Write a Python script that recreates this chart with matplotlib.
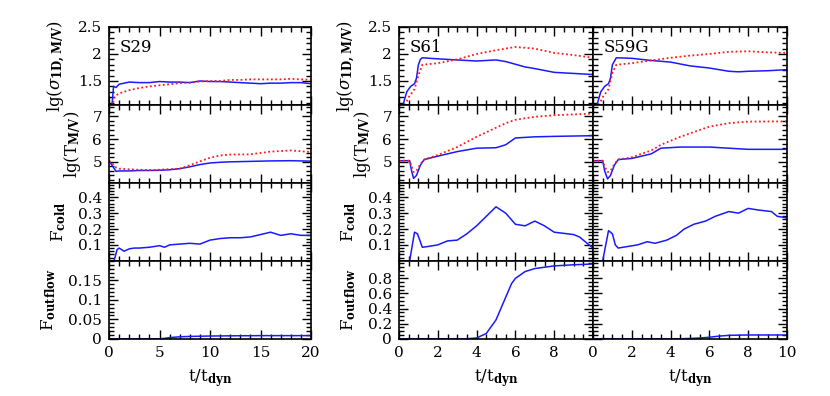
import matplotlib.pyplot as plt
from matplotlib.ticker import MultipleLocator

plt.rcParams['mathtext.fontset'] = 'dejavuserif'
plt.rcParams['font.family'] = 'DejaVu Serif'

# S29 (t from 0 to 20)
s29_sig_t = [0.3, 0.45, 0.7, 1, 2, 3, 4, 5, 6, 7, 8, 9, 10, 11, 12, 13, 14, 15, 16, 17, 18, 19, 20]
s29_sig_b = [1.05, 1.4, 1.38, 1.44, 1.48, 1.47, 1.47, 1.49, 1.48, 1.48, 1.47, 1.5, 1.49, 1.49, 1.48, 1.47, 1.46, 1.45, 1.46, 1.46, 1.47, 1.47, 1.45]
s29_sig_r_t = [0.4, 0.6, 1, 2, 3, 4, 5, 6, 7, 8, 9, 10, 11, 12, 13, 14, 15, 16, 17, 18, 19, 20]
s29_sig_r = [1.1, 1.22, 1.27, 1.33, 1.37, 1.4, 1.42, 1.44, 1.46, 1.47, 1.49, 1.5, 1.5, 1.52, 1.52, 1.53, 1.53, 1.53, 1.53, 1.54, 1.53, 1.52]
s29_T_t = [0, 0.3, 0.7, 1, 2, 3, 4, 5, 6, 7, 8, 9, 10, 11, 12, 14, 16, 18, 20]
s29_T_b = [5.05, 4.85, 4.58, 4.6, 4.6, 4.62, 4.62, 4.63, 4.65, 4.7, 4.78, 4.88, 4.95, 4.98, 5.0, 5.02, 5.04, 5.05, 5.03]
s29_T_r = [5.05, 4.95, 4.75, 4.7, 4.67, 4.65, 4.64, 4.65, 4.68, 4.7, 4.85, 5.02, 5.18, 5.28, 5.32, 5.33, 5.45, 5.5, 5.43]
s29_fc_t = [0.5, 0.8, 1, 1.5, 2, 2.5, 3, 4, 5, 5.5, 6, 7, 8, 9, 10, 11, 12, 13, 14, 15, 16, 16.5, 17, 18, 19, 20]
s29_fc = [0.0, 0.07, 0.08, 0.06, 0.075, 0.08, 0.08, 0.085, 0.095, 0.085, 0.1, 0.105, 0.11, 0.105, 0.13, 0.14, 0.145, 0.145, 0.15, 0.165, 0.18, 0.17, 0.16, 0.17, 0.16, 0.16]
s29_out_t = [0, 5, 5.5, 6, 7, 8, 10, 12, 15, 18, 20]
s29_out = [0.0, 0.0, 0.001, 0.003, 0.005, 0.006, 0.007, 0.0075, 0.008, 0.008, 0.008]

# S61 (t from 0 to 10)
s61_sig_t = [0.2, 0.4, 0.6, 0.8, 0.9, 1.0, 1.1, 1.2, 2, 3, 4, 5, 5.5, 6, 6.5, 7, 8, 9, 10]
s61_sig_b = [1.05, 1.3, 1.4, 1.45, 1.55, 1.8, 1.9, 1.93, 1.91, 1.89, 1.87, 1.89, 1.86, 1.81, 1.76, 1.73, 1.66, 1.64, 1.62]
s61_sig_r_t = [0.3, 0.5, 0.8, 1.0, 1.2, 2, 3, 4, 5, 6, 7, 8, 9, 10]
s61_sig_r = [1.05, 1.2, 1.35, 1.6, 1.8, 1.83, 1.9, 2.0, 2.07, 2.13, 2.1, 2.02, 1.98, 1.93]
s61_T_t = [0, 0.55, 0.65, 0.75, 0.9, 1.1, 1.3, 2, 3, 4, 5, 5.5, 6, 7, 8, 10]
s61_T_b = [5.05, 5.05, 4.6, 4.27, 4.4, 4.85, 5.1, 5.25, 5.45, 5.6, 5.62, 5.75, 6.05, 6.1, 6.12, 6.15]
s61_T_r = [5.05, 5.05, 4.8, 4.55, 4.6, 4.9, 5.1, 5.3, 5.65, 6.1, 6.5, 6.7, 6.85, 6.98, 7.05, 7.12]
s61_fc_t = [0.55, 0.8, 0.95, 1.1, 1.2, 1.5, 2, 2.5, 3, 3.5, 4, 4.5, 5, 5.5, 6, 6.5, 7, 7.5, 8, 9, 9.3, 9.8, 10]
s61_fc = [0.0, 0.18, 0.17, 0.12, 0.085, 0.09, 0.1, 0.125, 0.13, 0.17, 0.22, 0.28, 0.34, 0.3, 0.23, 0.22, 0.25, 0.22, 0.18, 0.165, 0.15, 0.1, 0.08]
s61_out_t = [0, 3.5, 4, 4.5, 5, 5.5, 5.8, 6, 6.5, 7, 8, 9, 10]
s61_out = [0.0, 0.0, 0.01, 0.07, 0.25, 0.55, 0.73, 0.8, 0.89, 0.93, 0.965, 0.98, 0.99]

# S59G (t from 0 to 10)
s59_sig_t = [0.2, 0.4, 0.6, 0.8, 0.9, 1.0, 1.2, 2, 2.5, 3, 4, 5, 6, 7, 7.5, 8, 9, 10]
s59_sig_b = [1.05, 1.3, 1.4, 1.45, 1.55, 1.8, 1.93, 1.92, 1.9, 1.88, 1.85, 1.78, 1.74, 1.68, 1.67, 1.68, 1.69, 1.71]
s59_sig_r_t = [0.3, 0.5, 0.8, 1.0, 1.2, 2, 3, 4, 5, 6, 7, 8, 9, 10]
s59_sig_r = [1.05, 1.2, 1.35, 1.65, 1.8, 1.83, 1.88, 1.93, 1.97, 2.0, 2.04, 2.05, 2.03, 2.02]
s59_T_t = [0, 0.5, 0.6, 0.75, 0.9, 1.1, 1.3, 2, 3, 3.5, 4.5, 6, 7, 8, 10]
s59_T_b = [5.05, 5.05, 4.6, 4.25, 4.4, 4.85, 5.1, 5.15, 5.35, 5.6, 5.65, 5.65, 5.6, 5.55, 5.55]
s59_T_r = [5.05, 5.05, 4.8, 4.55, 4.6, 4.9, 5.1, 5.2, 5.5, 5.75, 6.1, 6.55, 6.7, 6.77, 6.78]
s59_fc_t = [0.5, 0.8, 1.0, 1.15, 1.3, 1.8, 2.3, 2.8, 3.2, 3.8, 4.3, 4.7, 5.2, 5.8, 6.3, 7, 7.5, 8, 8.5, 9.2, 9.5, 10]
s59_fc = [0.0, 0.19, 0.17, 0.1, 0.08, 0.09, 0.1, 0.12, 0.11, 0.13, 0.16, 0.2, 0.23, 0.25, 0.28, 0.31, 0.3, 0.33, 0.32, 0.31, 0.28, 0.27]
s59_out_t = [0, 4.5, 5, 5.5, 6, 6.5, 7, 8, 10]
s59_out = [0.0, 0.0, 0.004, 0.01, 0.02, 0.035, 0.045, 0.05, 0.05]

names = ['S29', 'S61', 'S59G']
ylabels = [r'$\mathrm{lg}(\sigma_{\mathbf{1D,M/V}})$', r'$\mathrm{lg}(\mathrm{T}_{\mathbf{M/V}})$',
           r'$\mathrm{F}_{\mathbf{cold}}$', r'$\mathrm{F}_{\mathbf{outflow}}$']

runs = [
    [(s29_sig_t, s29_sig_b, s29_sig_r_t, s29_sig_r), (s29_T_t, s29_T_b, s29_T_t, s29_T_r), (s29_fc_t, s29_fc), (s29_out_t, s29_out)],
    [(s61_sig_t, s61_sig_b, s61_sig_r_t, s61_sig_r), (s61_T_t, s61_T_b, s61_T_t, s61_T_r), (s61_fc_t, s61_fc), (s61_out_t, s61_out)],
    [(s59_sig_t, s59_sig_b, s59_sig_r_t, s59_sig_r), (s59_T_t, s59_T_b, s59_T_t, s59_T_r), (s59_fc_t, s59_fc), (s59_out_t, s59_out)],
]

fig = plt.figure(figsize=(8.3, 3.96), dpi=100)
W, H = 830.0, 396.0
col_px = [(109, 202), (399, 194), (593, 194)]
row_top = [27, 105, 183, 261]
row_h = 77.75
blue = '#1a1aff'
red = '#ff1a1a'
fs = 11

for c in range(3):
    x0, w = col_px[c]
    for r in range(4):
        ax = fig.add_axes([x0 / W, 1 - (row_top[r] + row_h) / H, w / W, row_h / H])
        d = runs[c][r]
        if r < 2:
            ax.plot(d[0], d[1], color=blue, lw=1.1)
            ax.plot(d[2], d[3], color=red, lw=1.3, ls=(0, (1, 1.4)))
        else:
            ax.plot(d[0], d[1], color=blue, lw=1.1)

        if c == 0:
            ax.set_xlim(0, 20)
            ax.xaxis.set_major_locator(MultipleLocator(5))
            ax.xaxis.set_minor_locator(MultipleLocator(1))
        else:
            ax.set_xlim(0, 10)
            ax.xaxis.set_major_locator(MultipleLocator(2))
            ax.xaxis.set_minor_locator(MultipleLocator(0.5))

        if r == 0:
            ax.set_ylim(1.06, 2.5)
            ax.set_yticks([1.5, 2, 2.5])
            ax.set_yticklabels(['1.5', '2', '2.5'])
            ax.yaxis.set_minor_locator(MultipleLocator(0.1))
            ax.text(0.055, 0.73, names[c], transform=ax.transAxes, fontsize=12, va='center')
        elif r == 1:
            ax.set_ylim(4.08, 7.5)
            ax.set_yticks([5, 6, 7])
            ax.set_yticklabels(['5', '6', '7'])
            ax.yaxis.set_minor_locator(MultipleLocator(0.2))
        elif r == 2:
            ax.set_ylim(0, 0.49)
            ax.set_yticks([0.1, 0.2, 0.3, 0.4])
            ax.set_yticklabels(['0.1', '0.2', '0.3', '0.4'])
            ax.yaxis.set_minor_locator(MultipleLocator(0.02))
        else:
            if c == 0:
                ax.set_ylim(0, 0.2)
                ax.set_yticks([0, 0.05, 0.1, 0.15])
                ax.set_yticklabels(['0', '0.05', '0.1', '0.15'])
                ax.yaxis.set_minor_locator(MultipleLocator(0.01))
            else:
                ax.set_ylim(0, 1.03)
                ax.set_yticks([0, 0.2, 0.4, 0.6, 0.8])
                ax.set_yticklabels(['0', '0.2', '0.4', '0.6', '0.8'])
                ax.yaxis.set_minor_locator(MultipleLocator(0.05))

        ax.tick_params(which='both', direction='in', top=True, right=True, labelsize=fs, width=1.0)
        ax.tick_params(which='major', length=6.5, pad=5)
        ax.tick_params(which='minor', length=3.5)
        for s in ax.spines.values():
            s.set_linewidth(1.2)

        if c == 2:
            ax.tick_params(labelleft=False)
        else:
            ax.set_ylabel(ylabels[r], fontsize=12, labelpad=7)
        if r < 3:
            ax.tick_params(labelbottom=False)
        else:
            if c == 1:
                ax.set_xticks([0, 2, 4, 6, 8, 10])
                ax.set_xticklabels(['0', '2', '4', '6', '8', ''])
            ax.set_xlabel(r'$\mathrm{t/t}_{\mathbf{dyn}}$', fontsize=12, labelpad=5)

fig.savefig('out.png', dpi=100)
